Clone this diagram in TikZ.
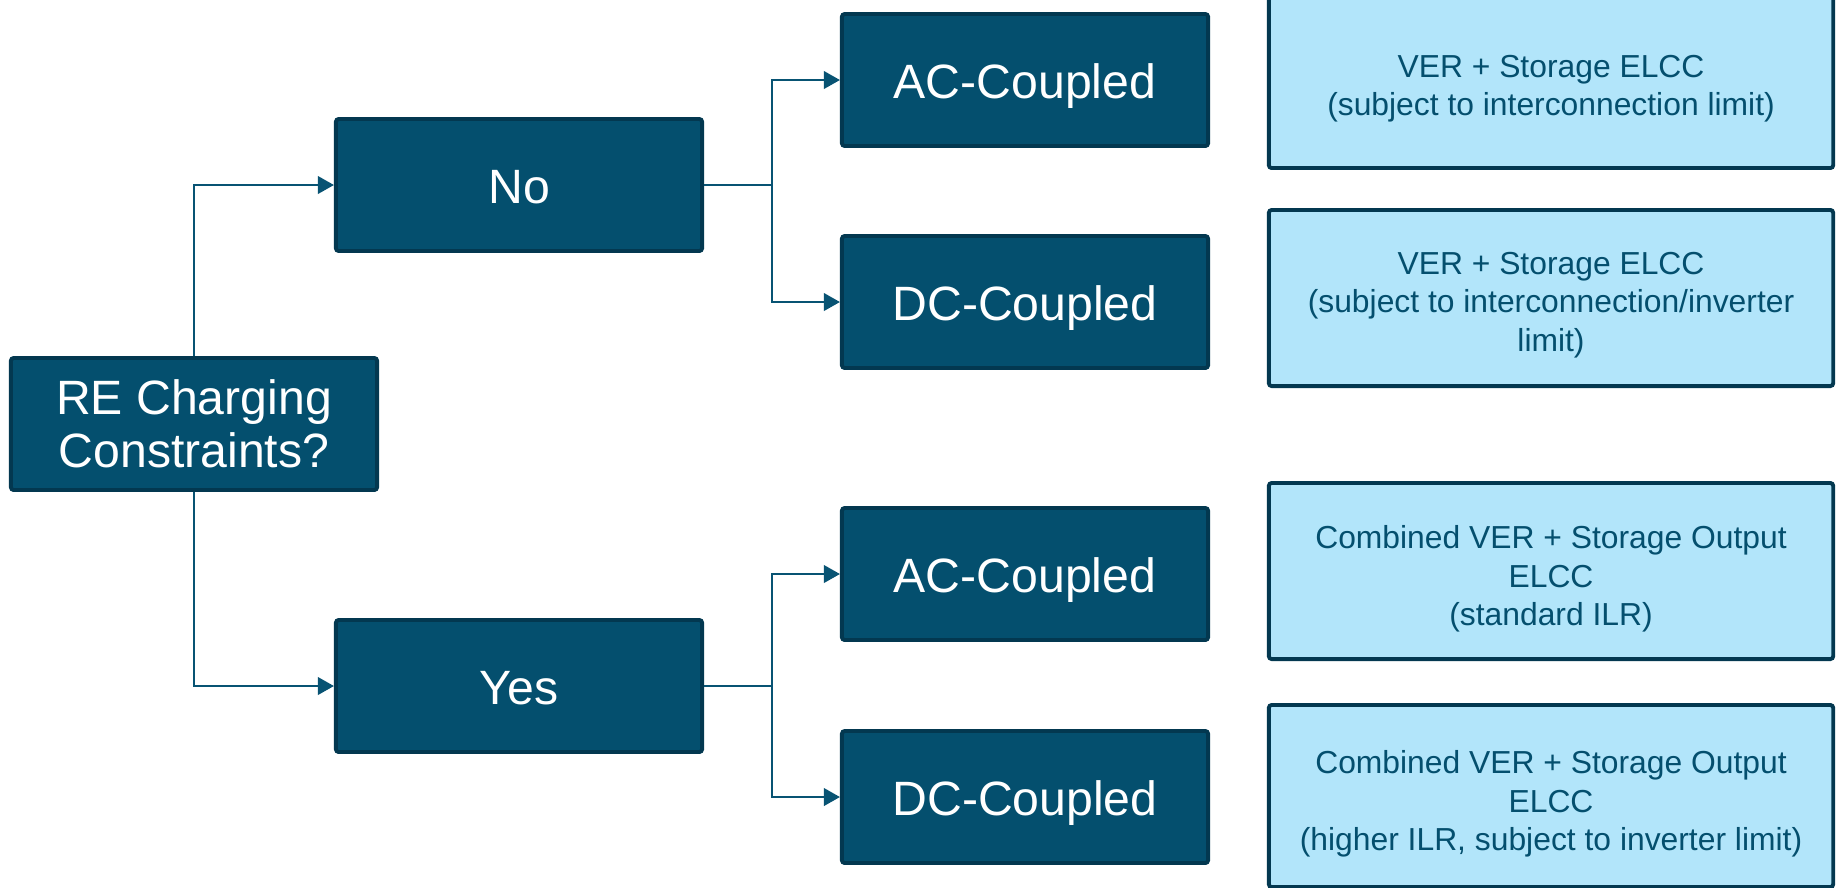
\documentclass[tikz,border=0pt]{standalone}
\usepackage{fontspec}
\setmainfont{Liberation Sans}
\usetikzlibrary{arrows.meta}
\definecolor{deepTeal}{RGB}{4,79,110}
\definecolor{edgeTeal}{RGB}{3,56,80}
\definecolor{paleBlue}{RGB}{178,229,250}
\definecolor{lineTeal}{RGB}{8,83,115}

\begin{document}
\begin{tikzpicture}[x=0.01cm,y=-0.01cm,
    darkbox/.style={draw=edgeTeal,fill=deepTeal,line width=1.1pt,text=white,
      minimum width=3.66cm,minimum height=1.32cm,inner sep=0pt,align=center,
      rounded corners=0.8pt,font=\fontsize{13.7}{15}\selectfont},
    onebox/.style={darkbox,text height=13.4pt,text depth=3pt},
    lightbox/.style={draw=edgeTeal,fill=paleBlue,line width=1.1pt,text=deepTeal,
      minimum width=5.64cm,minimum height=1.76cm,inner sep=0pt,align=center,
      rounded corners=0.8pt,font=\fontsize{9.05}{11}\selectfont,
      text height=31.2pt,text depth=0pt},
    arr/.style={draw=lineTeal,line width=0.7pt,-{Triangle[length=4.6pt,width=5pt]}}]
  \useasboundingbox (0,0) rectangle (1837,887);
  % question and answers
  \node[darkbox] (re) at (194,424) {RE Charging\\Constraints?};
  \node[onebox] (no) at (519,185) {No};
  \node[onebox] (yes) at (519,686) {Yes};
  % coupling types
  \node[onebox] (ac1) at (1025,80) {AC-Coupled};
  \node[onebox] (dc1) at (1025,302) {DC-Coupled};
  \node[onebox] (ac2) at (1025,574) {AC-Coupled};
  \node[onebox] (dc2) at (1025,797) {DC-Coupled};
  % resulting ELCC treatment
  \node[lightbox,text height=20.4pt] (r1) at (1551,80) {VER + Storage ELCC\\(subject to interconnection limit)};
  \node[lightbox,text height=30.4pt] (r2) at (1551,298) {VER + Storage ELCC\\(subject to interconnection/inverter\\limit)};
  \node[lightbox] (r3) at (1551,571) {Combined VER + Storage Output\\ELCC\\(standard ILR)};
  \node[lightbox,minimum height=1.82cm] (r4) at (1551,796) {Combined VER + Storage Output\\ELCC\\(higher ILR, subject to inverter limit)};
  % connectors
  \coordinate (jno) at (772,185);
  \coordinate (jyes) at (772,686);
  \draw[arr] (re.north) |- (no.west);
  \draw[arr] (re.south) |- (yes.west);
  \draw[lineTeal,line width=0.7pt] (no.east) -- (jno);
  \draw[arr] (jno) |- (ac1.west);
  \draw[arr] (jno) |- (dc1.west);
  \draw[lineTeal,line width=0.7pt] (yes.east) -- (jyes);
  \draw[arr] (jyes) |- (ac2.west);
  \draw[arr] (jyes) |- (dc2.west);
\end{tikzpicture}
\end{document}
